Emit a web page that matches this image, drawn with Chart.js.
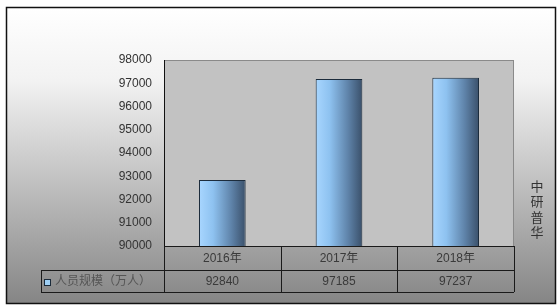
<!DOCTYPE html>
<html>
<head>
<meta charset="utf-8">
<script src="https://cdn.jsdelivr.net/npm/chart.js@4"></script>
<style>
  html, body { margin: 0; padding: 0; background: #fff; }
  canvas { display: block; }
</style>
</head>
<body>
<canvas id="chart" width="559" height="306"></canvas>
<script>
// data
const years = ["2016年", "2017年", "2018年"];
const staffSize = [92840, 97185, 97237];
const seriesName = "人员规模（万人）";
const yMin = 90000;
const yMax = 98000;
const yStep = 1000;
const watermark = ["中", "研", "普", "华"];

const FONT = "'Liberation Sans', Arial, 'Noto Sans CJK SC', sans-serif";
const BAR_PCT = 0.4;
Chart.defaults.font.family = FONT;

// horizontal shading on every bar, light blue on the left to slate on the right
function barFill(context) {
  const chart = context.chart;
  const area = chart.chartArea;
  if (!area || !chart.scales.x) return "#7fb2e5";
  const x = chart.scales.x.getPixelForValue(context.dataIndex);
  const w = (area.width / years.length) * BAR_PCT;
  const g = chart.ctx.createLinearGradient(x - w / 2, 0, x + w / 2, 0);
  g.addColorStop(0, "#a8d6ff");
  g.addColorStop(0.3, "#8ec2f0");
  g.addColorStop(0.7, "#5e82a8");
  g.addColorStop(1, "#3a506a");
  return g;
}

// page background, outer frame and grey plot area
const backdrop = {
  id: "backdrop",
  beforeDraw(chart) {
    const { ctx, chartArea: a, width, height } = chart;
    ctx.save();
    ctx.fillStyle = "#fff";
    ctx.fillRect(0, 0, width, height);
    const g = ctx.createLinearGradient(0, 7, 0, height - 2);
    g.addColorStop(0, "#ffffff");
    g.addColorStop(0.25, "#f2f2f2");
    g.addColorStop(1, "#858585");
    ctx.fillStyle = g;
    ctx.fillRect(6, 7, 550, height - 9);
    ctx.strokeStyle = "#111";
    ctx.lineWidth = 1.5;
    ctx.strokeRect(6.5, 7.5, 549, height - 10);
    ctx.fillStyle = "#c2c2c2";
    ctx.fillRect(a.left, a.top, a.right - a.left, a.bottom - a.top);
    ctx.strokeStyle = "#8a8a8a";
    ctx.lineWidth = 1;
    ctx.strokeRect(a.left + 0.5, a.top + 0.5, a.right - a.left - 1, a.bottom - a.top);
    ctx.restore();
  }
};

// data table under the plot plus the vertical watermark
const dataTable = {
  id: "dataTable",
  afterDraw(chart) {
    const { ctx, chartArea: a, scales } = chart;
    const x = scales.x;
    const row1 = a.bottom, row2 = a.bottom + 24, row3 = a.bottom + 46;
    const legendLeft = 41;
    const colW = (a.right - a.left) / years.length;
    ctx.save();
    ctx.strokeStyle = "#1a1a1a";
    ctx.lineWidth = 1;
    ctx.beginPath();
    ctx.moveTo(a.left, row1 + 0.5); ctx.lineTo(a.right, row1 + 0.5);
    ctx.moveTo(legendLeft, row2 + 0.5); ctx.lineTo(a.right, row2 + 0.5);
    ctx.moveTo(legendLeft, row3 + 0.5); ctx.lineTo(a.right, row3 + 0.5);
    ctx.moveTo(legendLeft + 0.5, row2); ctx.lineTo(legendLeft + 0.5, row3);
    for (let i = 0; i <= years.length; i++) {
      const cx = Math.round(a.left + i * colW) + 0.5;
      ctx.moveTo(cx, row1); ctx.lineTo(cx, row3);
    }
    ctx.stroke();

    ctx.font = "12px " + FONT;
    ctx.textAlign = "center";
    ctx.textBaseline = "middle";
    ctx.fillStyle = "#3a3a3a";
    years.forEach((y, i) => {
      const cx = x.getPixelForValue(i);
      ctx.fillText(y, cx, (row1 + row2) / 2 + 1);
      ctx.fillText(String(staffSize[i]), cx, (row2 + row3) / 2 + 1);
    });

    // legend key
    ctx.fillStyle = "#9fd0f5";
    ctx.fillRect(44.5, 279.5, 6, 6);
    ctx.strokeStyle = "#1a2a3a";
    ctx.strokeRect(44.5, 279.5, 6, 6);
    ctx.textAlign = "left";
    ctx.fillStyle = "#555";
    ctx.fillText(seriesName, 55, (row2 + row3) / 2 + 1);

    ctx.textAlign = "center";
    ctx.fillStyle = "#333";
    ctx.font = "13px " + FONT;
    watermark.forEach((ch, i) => ctx.fillText(ch, 537, 187 + i * 15.5));
    ctx.restore();
  }
};

new Chart(document.getElementById("chart"), {
  type: "bar",
  data: {
    labels: years,
    datasets: [{
      label: seriesName,
      data: staffSize,
      backgroundColor: barFill,
      borderColor: "#1c2c3c",
      borderWidth: 1,
      barPercentage: BAR_PCT,
      categoryPercentage: 1
    }]
  },
  options: {
    responsive: false,
    animation: false,
    layout: { padding: { left: 40, right: 45, top: 60, bottom: 60 } },
    plugins: { legend: { display: false }, tooltip: { enabled: false } },
    scales: {
      x: { display: false },
      y: {
        min: yMin,
        max: yMax,
        afterFit: (s) => { s.width = 124; },
        grid: { display: false, drawTicks: false },
        border: { display: true, color: "#111", width: 1 },
        ticks: {
          stepSize: yStep,
          padding: 12,
          color: "#333",
          font: { size: 12 },
          callback: (v) => String(v)
        }
      }
    }
  },
  plugins: [backdrop, dataTable]
});
</script>
</body>
</html>
